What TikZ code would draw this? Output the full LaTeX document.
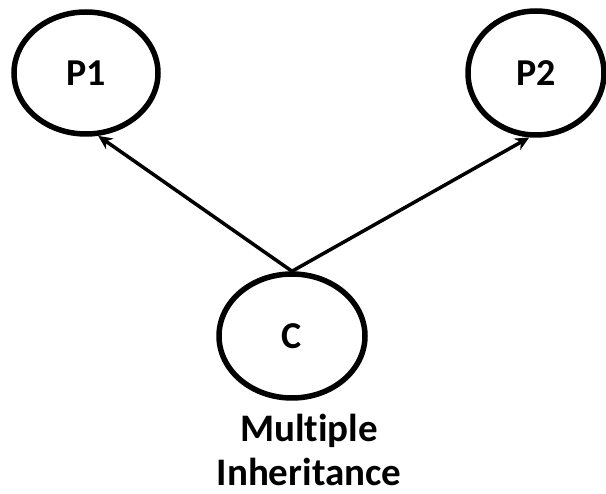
\documentclass[tikz,border=0pt]{standalone}
\usepackage{fontspec}
\setmainfont[Ligatures=NoCommon]{Carlito}
\usetikzlibrary{shapes.geometric,arrows.meta}
\begin{document}
\begin{tikzpicture}[x=1pt,y=-1pt,
  cls/.style={ellipse,draw,line width=5.5pt,minimum width=144pt,minimum height=122pt,inner sep=0pt,font=\bfseries\fontsize{38}{38}\selectfont},
  inh/.style={line width=3.5pt,-{Stealth[length=14pt,width=13pt]}}]
\useasboundingbox (0,0) rectangle (606,494);
\node[cls] (p1) at (86,73) {P1};
\node[cls,minimum width=136pt,minimum height=124pt] (p2) at (536,73) {P2};
\node[cls,minimum width=146pt,minimum height=124pt] (c) at (292,336) {C};
\draw[inh] (c.north) -- (p1.-79);
\draw[inh] (c.north) -- (p2.-96);
\node[font=\bfseries\fontsize{39}{44}\selectfont,align=center,inner sep=0pt] (lbl) at (309,450) {Multiple\\Inheritance};
\end{tikzpicture}
\end{document}
